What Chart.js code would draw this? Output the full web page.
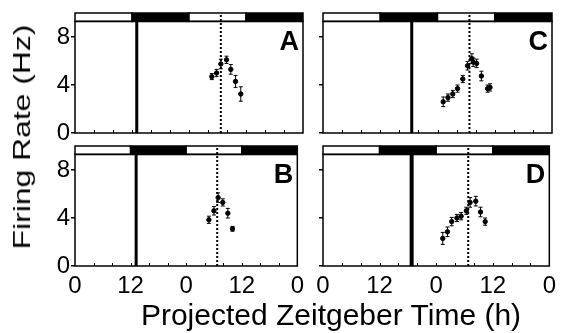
<!DOCTYPE html>
<html>
<head>
<meta charset="utf-8">
<script src="https://cdn.jsdelivr.net/npm/chart.js@4.4.1/dist/chart.umd.min.js"></script>
<style>
  body { margin: 0; background: #fff; }
  #wrap { position: relative; width: 562px; height: 333px; overflow: hidden; background: #fff;
          font-family: "Liberation Sans", Arial, sans-serif; }
  canvas { position: absolute; }
  .title { position: absolute; color: #000; white-space: nowrap; line-height: 1; }
  #xtitle { left: 331px; top: 315px; font-size: 30px; transform: translate(-50%, -50%); }
  #ytitle { left: 22px; top: 137px; font-size: 27px; transform: translate(-50%, -50%) rotate(-90deg) scale(1.18, 0.9); }
</style>
</head>
<body>
<div id="wrap">
  <canvas id="cA" width="310" height="140" style="left:0;top:0"></canvas>
  <canvas id="cC" width="272" height="140" style="left:290px;top:0"></canvas>
  <canvas id="cB" width="310" height="175" style="left:0;top:133px"></canvas>
  <canvas id="cD" width="272" height="175" style="left:290px;top:133px"></canvas>
  <div class="title" id="ytitle">Firing Rate (Hz)</div>
  <div class="title" id="xtitle">Projected Zeitgeber Time (h)</div>
</div>
<script>
// light/dark schedule on the top bar (hours)
const ldStart = [0, 12, 24, 36];
const ldDark = [false, true, false, true];
const ldLength = 12;

// panel A
const hoursA = [28.8, 29.8, 30.7, 31.9, 32.8, 33.8, 34.9];
const rateA = [4.7, 5.0, 5.75, 6.1, 5.3, 4.3, 3.25];
const errA = [0.25, 0.3, 0.4, 0.3, 0.4, 0.5, 0.6];

// panel B
const hoursB = [28.9, 30.0, 30.9, 31.9, 33.0, 34.0];
const rateB = [3.85, 4.6, 5.7, 5.3, 4.4, 3.1];
const errB = [0.3, 0.35, 0.4, 0.3, 0.4, 0.2];

// panel C
const hoursC = [25.2, 26.2, 27.2, 28.2, 29.3, 30.3, 31.2, 31.5, 32.2, 33.2, 34.5, 35.0];
const rateC = [2.6, 2.95, 3.25, 3.7, 4.5, 5.6, 6.2, 5.9, 5.8, 4.75, 3.7, 3.8];
const errC = [0.4, 0.3, 0.3, 0.3, 0.3, 0.35, 0.4, 0.35, 0.35, 0.4, 0.3, 0.3];

// panel D
const hoursD = [25.4, 26.4, 27.3, 28.4, 29.3, 30.4, 31.2, 32.4, 33.4, 34.4];
const rateD = [2.3, 2.85, 3.7, 4.0, 4.15, 4.6, 5.3, 5.4, 4.5, 3.7];
const errD = [0.5, 0.4, 0.35, 0.3, 0.3, 0.3, 0.4, 0.4, 0.4, 0.3];

// pulse time (solid line) and projected peak (dotted line), hours
const pulseTime = [13.0, 13.2, 18.6, 18.8];
const peakTime = [30.7, 30.7, 30.7, 30.8];
const panelNames = ['A', 'B', 'C', 'D'];

const barBottom = 9.3;
const yMax = 10;

Chart.defaults.font.family = '"Liberation Sans", Arial, sans-serif';
Chart.defaults.color = '#000';

const decor = {
  id: 'decor',
  beforeDatasetsDraw(chart, args, o) {
    const { ctx, chartArea: a, scales: { x, y } } = chart;
    const top = y.getPixelForValue(yMax);
    const bot = y.getPixelForValue(barBottom);
    ctx.save();
    // light / dark bar
    ctx.lineWidth = 1.5;
    ctx.strokeStyle = '#000';
    ldStart.forEach((s, i) => {
      const x0 = x.getPixelForValue(s), x1 = x.getPixelForValue(s + ldLength);
      ctx.fillStyle = ldDark[i] ? '#000' : '#fff';
      ctx.fillRect(x0, top, x1 - x0, bot - top);
      ctx.strokeRect(x0, top, x1 - x0, bot - top);
    });
    // frame
    ctx.strokeRect(a.left, bot, a.right - a.left, a.bottom - bot);
    // inward x ticks
    ctx.lineWidth = 1;
    x.ticks.forEach(t => {
      if (t.value <= 0 || t.value >= 48) return;
      const px = Math.round(x.getPixelForValue(t.value)) + 0.5;
      ctx.beginPath();
      ctx.moveTo(px, a.bottom);
      ctx.lineTo(px, a.bottom - 3);
      ctx.stroke();
    });
    // pulse line
    const pp = x.getPixelForValue(o.pulse);
    ctx.lineWidth = o.pulseWidth;
    ctx.beginPath();
    ctx.moveTo(pp, a.bottom);
    ctx.lineTo(pp, bot);
    ctx.stroke();
    // dotted projected peak
    const dp = x.getPixelForValue(o.peak);
    ctx.lineWidth = 2;
    ctx.setLineDash([2, 2]);
    ctx.beginPath();
    ctx.moveTo(dp, a.bottom);
    ctx.lineTo(dp, top);
    ctx.stroke();
    ctx.setLineDash([]);
    // error bars
    ctx.lineWidth = 1;
    const ds = chart.data.datasets[0];
    ds.data.forEach((p, i) => {
      const px = x.getPixelForValue(p.x);
      const yl = y.getPixelForValue(p.y - o.err[i]);
      const yh = y.getPixelForValue(p.y + o.err[i]);
      ctx.beginPath();
      ctx.moveTo(px, yl); ctx.lineTo(px, yh);
      ctx.moveTo(px - 2, yl); ctx.lineTo(px + 2, yl);
      ctx.moveTo(px - 2, yh); ctx.lineTo(px + 2, yh);
      ctx.stroke();
    });
    // panel letter
    ctx.fillStyle = '#000';
    ctx.font = 'bold 27px "Liberation Sans", Arial, sans-serif';
    ctx.textAlign = 'right';
    ctx.textBaseline = 'alphabetic';
    ctx.fillText(o.name, a.right - 4, a.top + 37);
    ctx.restore();
  }
};

function makePanel(id, hours, rate, err, idx, isLeft, isBottom) {
  const ctx = document.getElementById(id).getContext('2d');
  return new Chart(ctx, {
    type: 'scatter',
    data: {
      datasets: [{
        data: hours.map((h, i) => ({ x: h, y: rate[i] })),
        backgroundColor: '#000',
        borderColor: '#000',
        pointRadius: 2.2,
        pointHoverRadius: 2.2
      }]
    },
    options: {
      responsive: false,
      animation: false,
      events: [],
      layout: { padding: { top: 13, right: isLeft ? 7 : 10, left: 0, bottom: 0 } },
      plugins: {
        legend: { display: false },
        tooltip: { enabled: false },
        decor: { pulse: pulseTime[idx], peak: peakTime[idx], err: err, name: panelNames[idx],
                 pulseWidth: idx === 3 ? 4 : 3 }
      },
      scales: {
        x: {
          type: 'linear', min: 0, max: 48,
          grid: { display: false, drawTicks: false },
          border: { display: false },
          ticks: {
            display: isBottom, stepSize: 4, autoSkip: false, maxRotation: 0, padding: 6,
            font: { size: 24 },
            callback: v => (v % 12 === 0 ? String(v % 24) : '')
          },
          afterFit: s => { s.height = isBottom ? 42 : 7; }
        },
        y: {
          min: 0, max: yMax,
          grid: { display: true, drawOnChartArea: false, drawTicks: true, tickLength: 4,
                  color: '#000', lineWidth: 1.5 },
          border: { display: false },
          ticks: { display: isLeft, stepSize: 4, includeBounds: false, padding: 1,
                   font: { size: 24, lineHeight: 0.4 } },
          afterFit: s => { s.width = isLeft ? 75 : 33; }
        }
      }
    },
    plugins: [decor]
  });
}

makePanel('cA', hoursA, rateA, errA, 0, true, false);
makePanel('cB', hoursB, rateB, errB, 1, true, true);
makePanel('cC', hoursC, rateC, errC, 2, false, false);
makePanel('cD', hoursD, rateD, errD, 3, false, true);
</script>
</body>
</html>
